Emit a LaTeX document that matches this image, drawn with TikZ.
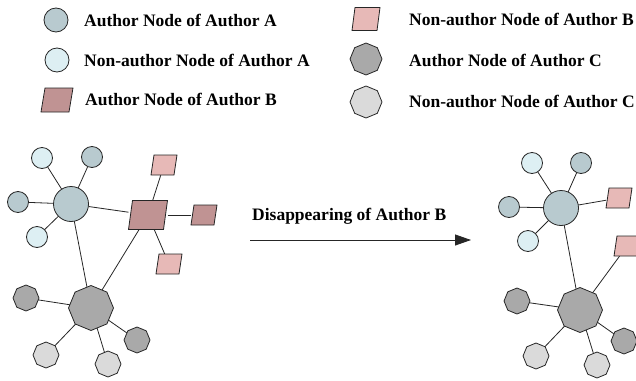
\documentclass[tikz,border=0pt]{standalone}
\usepackage{fontspec}
\setmainfont{Liberation Serif}
\usetikzlibrary{shapes.geometric,backgrounds,arrows.meta}
\definecolor{authA}{HTML}{B8CACF}
\definecolor{nonA}{HTML}{DDEFF3}
\definecolor{authB}{HTML}{C09393}
\definecolor{nonB}{HTML}{E7B9B7}
\definecolor{authC}{HTML}{A9A9A9}
\definecolor{nonC}{HTML}{DADADA}
\tikzset{
  base/.style={draw=black!85, line width=0.8pt, inner sep=0pt, outer sep=0pt},
  circA/.style={base, circle, fill=authA, minimum size=#1},
  circN/.style={base, circle, fill=nonA, minimum size=#1},
  para/.style 2 args={rectangle, inner sep=0pt, outer sep=0pt,
    append after command={\pgfextra{\let\pnode\tikzlastnode
      \filldraw[draw=black!85, line width=0.8pt, fill=#1]
      ([xshift=#2]\pnode.north west) -- (\pnode.north east)
      -- ([xshift=-#2]\pnode.south east) -- (\pnode.south west) -- cycle;}}},
  paraA/.style={para={authB}{#1}},
  paraN/.style={para={nonB}{#1}},
  octo/.style={base, regular polygon, regular polygon sides=8, shape border rotate=22.5, minimum size=#1},
  octA/.style={octo=#1, fill=authC},
  octN/.style={octo=#1, fill=nonC},
  lbl/.style={anchor=base west, inner sep=0pt, font=\fontsize{17.5}{20}\selectfont\bfseries},
  edge/.style={draw=black!85, line width=0.8pt}
}
\begin{document}
\begin{tikzpicture}[x=1pt,y=-1pt]
\useasboundingbox (0,0) rectangle (636,380);
% legend
\node[circA=24pt] (lg1) at (56,20) {};
\node[lbl] (lt1) at (84,26) {Author Node of Author A};
\node[circN=24pt] (lg2) at (57,60) {};
\node[lbl] (lt2) at (84,66) {Non-author Node of Author A};
\node[paraA=4pt, minimum width=32pt, minimum height=24pt] (lg3) at (57,100) {};
\node[lbl] (lt3) at (85,105) {Author Node of Author B};
\node[paraN=3pt, minimum width=28pt, minimum height=23pt] (lg4) at (366,19) {};
\node[lbl] (lt4) at (409,25) {Non-author Node of Author B};
\node[octA=32pt] (lg5) at (366,59) {};
\node[lbl] (lt5) at (409,66) {Author Node of Author C};
\node[octN=32pt] (lg6) at (366,102) {};
\node[lbl] (lt6) at (409,107) {Non-author Node of Author C};
% arrow
\node[lbl] (dt) at (252,220) {Disappearing of Author B};
\coordinate (as) at (250,240);
\coordinate (ae) at (471,240);
\draw[edge, -{Triangle[length=16pt,width=11pt]}] (as) -- (ae);
% left graph
\node[circA=35pt] (A) at (71,204) {};
\node[circN=21pt] (a1) at (42,158) {};
\node[circA=21pt] (a2) at (92,157) {};
\node[circA=21pt] (a3) at (18,202) {};
\node[circN=21pt] (a4) at (37,237) {};
\node[paraA=4pt, minimum width=39pt, minimum height=29pt] (B) at (148,215) {};
\node[paraN=3pt, minimum width=26pt, minimum height=20pt] (b1) at (164,165) {};
\node[paraA=3pt, minimum width=26pt, minimum height=20pt] (b2) at (204,215) {};
\node[paraN=3pt, minimum width=26pt, minimum height=20pt] (b3) at (169,264) {};
\node[octA=45pt] (C) at (91,308) {};
\node[octA=26pt] (c1) at (26,298) {};
\node[octN=26pt] (c2) at (46,355) {};
\node[octN=26pt] (c3) at (108,364) {};
\node[octA=26pt] (c4) at (137,340) {};
% right graph
\node[circA=35pt] (RA) at (561,208) {};
\node[circN=21pt] (r1) at (532,163) {};
\node[circA=21pt] (r2) at (581,163) {};
\node[circA=21pt] (r3) at (509,207) {};
\node[circN=21pt] (r4) at (528,241) {};
\node[paraN=3pt, minimum width=26pt, minimum height=20pt] (rb1) at (619,198) {};
\node[paraN=3pt, minimum width=26pt, minimum height=20pt] (rb2) at (627,246) {};
\node[octA=45pt] (RC) at (580,310) {};
\node[octA=26pt] (rc1) at (517,301) {};
\node[octN=26pt] (rc2) at (536,356) {};
\node[octN=26pt] (rc3) at (597,365) {};
\node[octA=26pt] (rc4) at (624,341) {};
\begin{scope}[on background layer]
\draw[edge] (A) -- (a1);
\draw[edge] (A) -- (a2);
\draw[edge] (A) -- (a3);
\draw[edge] (A) -- (a4);
\draw[edge] (A) -- (B);
\draw[edge] (A) -- (C);
\draw[edge] (B) -- (C);
\draw[edge] (B) -- (b1);
\draw[edge] (B) -- (b2);
\draw[edge] (B) -- (b3);
\draw[edge] (C) -- (c1);
\draw[edge] (C) -- (c2);
\draw[edge] (C) -- (c3);
\draw[edge] (C) -- (c4);
\draw[edge] (RA) -- (r1);
\draw[edge] (RA) -- (r2);
\draw[edge] (RA) -- (r3);
\draw[edge] (RA) -- (r4);
\draw[edge] (RA) -- (rb1);
\draw[edge] (RA) -- (RC);
\draw[edge] (RC) -- (rb2);
\draw[edge] (RC) -- (rc1);
\draw[edge] (RC) -- (rc2);
\draw[edge] (RC) -- (rc3);
\draw[edge] (RC) -- (rc4);
\end{scope}
\end{tikzpicture}
\end{document}
